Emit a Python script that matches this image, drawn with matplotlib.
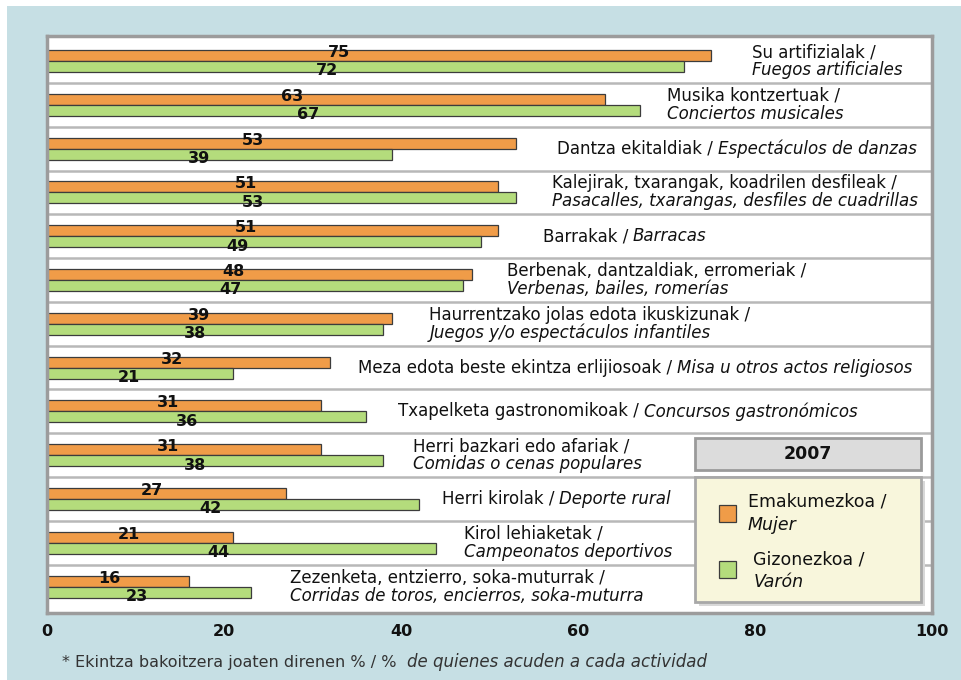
import matplotlib
matplotlib.use('Agg')
import matplotlib.pyplot as plt
from matplotlib.patches import Rectangle

# data (top to bottom)
labels_eu = ['Su artifizialak /', 'Musika kontzertuak /', 'Dantza ekitaldiak /',
             'Kalejirak, txarangak, koadrilen desfileak /', 'Barrakak /',
             'Berbenak, dantzaldiak, erromeriak /', 'Haurrentzako jolas edota ikuskizunak /',
             'Meza edota beste ekintza erlijiosoak /', 'Txapelketa gastronomikoak /',
             'Herri bazkari edo afariak /', 'Herri kirolak /', 'Kirol lehiaketak /',
             'Zezenketa, entzierro, soka-muturrak /']
labels_es = ['Fuegos artificiales', 'Conciertos musicales', 'Espectáculos de danzas',
             'Pasacalles, txarangas, desfiles de cuadrillas', 'Barracas',
             'Verbenas, bailes, romerías', 'Juegos y/o espectáculos infantiles',
             'Misa u otros actos religiosos', 'Concursos gastronómicos',
             'Comidas o cenas populares', 'Deporte rural', 'Campeonatos deportivos',
             'Corridas de toros, encierros, soka-muturra']
mujer = [75, 63, 53, 51, 51, 48, 39, 32, 31, 31, 27, 21, 16]
varon = [72, 67, 39, 53, 49, 47, 38, 21, 36, 38, 42, 44, 23]
ticks = [0, 20, 40, 60, 80, 100]
tick_labels = ['0', '20', '40', '60', '80', '100']

# layout of the category labels (x start in axis units, number of lines)
label_x = [79.7, 70.1, 57.6, 57.1, 56.0, 52.0, 43.2, 35.1, 39.7, 41.4, 44.6, 47.1, 27.5]
label_lines = [2, 2, 1, 2, 1, 2, 2, 1, 1, 2, 1, 2, 2]

ORANGE = '#f09c48'
GREEN = '#b4dc7c'
W, H = 962, 680
FS = 12

def fx(x):
    return x / W

def fy(y):
    return 1 - y / H

fig = plt.figure(figsize=(W / 100, H / 100), dpi=100)
fig.patch.set_facecolor('white')
fig.patches.append(Rectangle((fx(7), 0), fx(955), fy(6), transform=fig.transFigure,
                             facecolor='#c6dfe4', edgecolor='none', zorder=0))

ax = fig.add_axes([fx(47), fy(613), 885 / W, 577 / H])
ax.set_zorder(1)
ax.set_facecolor('white')
ax.set_xlim(0, 100)
ax.set_ylim(len(mujer) - 1 + 0.603, -0.571)

ys = list(range(len(mujer)))
ax.barh([y - 0.125 for y in ys], mujer, height=0.25, color=ORANGE,
        edgecolor='#3c3c3c', linewidth=0.9, zorder=2)
ax.barh([y + 0.125 for y in ys], varon, height=0.25, color=GREEN,
        edgecolor='#3c3c3c', linewidth=0.9, zorder=2)

for k in range(len(mujer) - 1):
    ax.axhline(k + 0.5, color='#b8b8b8', lw=1.8, zorder=1)

for i in ys:
    ax.text(mujer[i] * 0.44, i - 0.194, str(mujer[i]), ha='center', va='center',
            fontsize=11.5, fontweight='bold', color='#111111', zorder=3)
    ax.text(varon[i] * 0.44, i + 0.228, str(varon[i]), ha='center', va='center',
            fontsize=11.5, fontweight='bold', color='#111111', zorder=3)

renderer = fig.canvas.get_renderer()
for i in ys:
    if label_lines[i] == 2:
        ax.text(label_x[i], i - 0.205, labels_eu[i], ha='left', va='center',
                fontsize=FS, color='#111111', zorder=3)
        ax.text(label_x[i], i + 0.205, labels_es[i], ha='left', va='center',
                fontsize=FS, style='italic', color='#111111', zorder=3)
    else:
        t = ax.text(label_x[i], i, labels_eu[i], ha='left', va='center',
                    fontsize=FS, color='#111111', zorder=3)
        w = t.get_window_extent(renderer).width
        ax.annotate(labels_es[i], xy=(label_x[i], i), xycoords='data',
                    xytext=(w + 5, 0), textcoords='offset pixels',
                    ha='left', va='center', fontsize=FS, style='italic',
                    color='#111111', zorder=3)

for s in ax.spines.values():
    s.set_color('#9c9c9c')
    s.set_linewidth(2.5)

ax.set_yticks([])
ax.set_xticks(ticks)
ax.set_xticklabels(tick_labels, fontweight='bold')
ax.tick_params(axis='x', length=0, pad=8, labelsize=11.5, labelcolor='#111111')

# legend
fig.patches.append(Rectangle((fx(695), fy(470)), 226 / W, 32 / H, transform=fig.transFigure,
                             facecolor='#dcdcdc', edgecolor='#9a9a9a', lw=2, zorder=5))
fig.text(fx(808), fy(454), '2007', ha='center', va='center', fontsize=12.5,
         fontweight='bold', color='#111111', zorder=6)
fig.patches.append(Rectangle((fx(699), fy(606)), 226 / W, 125 / H, transform=fig.transFigure,
                             facecolor='#d8d8d8', edgecolor='none', zorder=4))
fig.patches.append(Rectangle((fx(695), fy(602)), 226 / W, 125 / H, transform=fig.transFigure,
                             facecolor='#f8f6dc', edgecolor='#a8a8a8', lw=2, zorder=5))
fig.patches.append(Rectangle((fx(719), fy(522)), 17 / W, 17 / H, transform=fig.transFigure,
                             facecolor=ORANGE, edgecolor='#3c3c3c', lw=0.9, zorder=6))
fig.patches.append(Rectangle((fx(719), fy(578)), 17 / W, 17 / H, transform=fig.transFigure,
                             facecolor=GREEN, edgecolor='#3c3c3c', lw=0.9, zorder=6))
fig.text(fx(748), fy(502), 'Emakumezkoa /', ha='left', va='center', fontsize=12.5,
         color='#111111', zorder=6)
fig.text(fx(748), fy(525), 'Mujer', ha='left', va='center', fontsize=12.5,
         style='italic', color='#111111', zorder=6)
fig.text(fx(753), fy(559), 'Gizonezkoa /', ha='left', va='center', fontsize=12.5,
         color='#111111', zorder=6)
fig.text(fx(754), fy(582), 'Varón', ha='left', va='center', fontsize=12.5,
         style='italic', color='#111111', zorder=6)

# footnote
fig.text(fx(62), fy(662), '* Ekintza bakoitzera joaten direnen % / %', ha='left',
         va='center', fontsize=11.5, color='#333333')
fig.text(fx(407), fy(662), 'de quienes acuden a cada actividad', ha='left',
         va='center', fontsize=12, style='italic', color='#333333')

fig.savefig('out.png', dpi=100)
